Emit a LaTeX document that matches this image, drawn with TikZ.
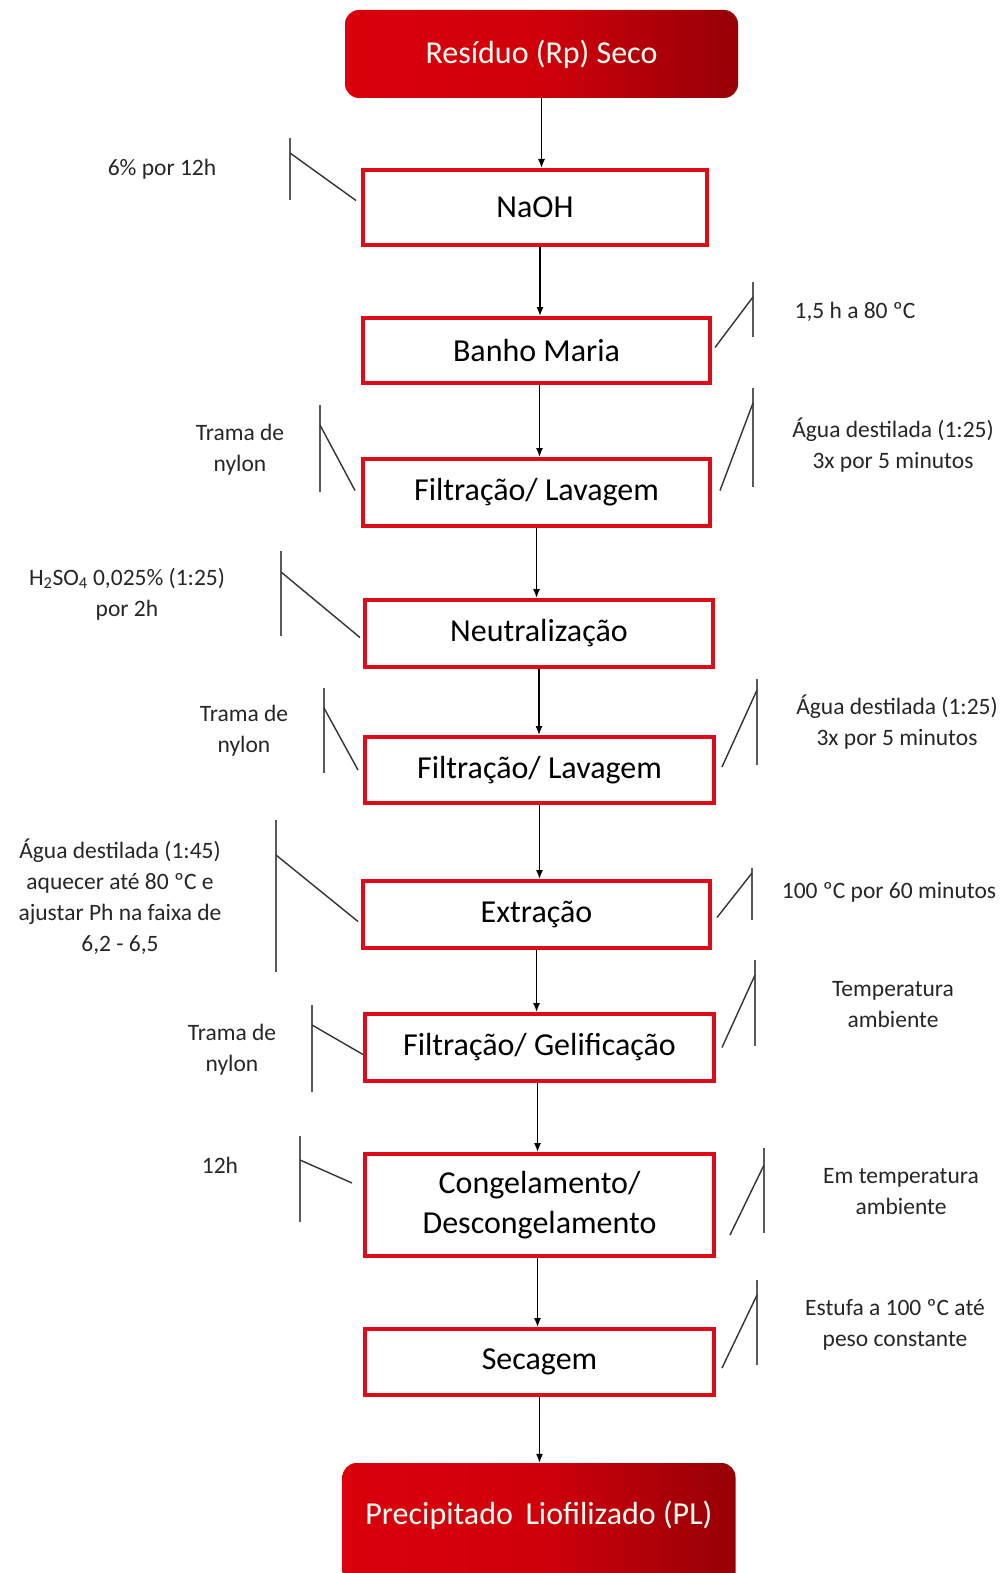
\documentclass[tikz,border=0pt]{standalone}
\usepackage{fontspec}
\setmainfont{Carlito}
\usetikzlibrary{arrows.meta}

\definecolor{boxred}{RGB}{222,12,22}
\definecolor{fillred}{RGB}{218,0,12}
\definecolor{darkred}{RGB}{150,0,6}
\definecolor{tiegray}{RGB}{90,90,90}

\tikzset{
    endbox/.style={rounded corners=14pt,left color=fillred,right color=darkred,
        middle color=fillred!85!darkred,
        text=white!95!yellow,minimum width=393pt,font=\fontsize{32}{36}\selectfont},
    stepbox/.style={draw=boxred,line width=4pt,fill=white,align=center,
        font=\fontsize{32}{40}\selectfont},
    note/.style={align=center,text=black!85,font=\fontsize{23.5}{31}\selectfont},
    flow/.style={-{Latex[length=9pt,width=7pt]},line width=1.3pt},
    tie/.style={line width=2pt,draw=tiegray},
    link/.style={line width=1.4pt,draw=black!80},
}

\begin{document}
\begin{tikzpicture}[x=1pt,y=-1pt]
    \useasboundingbox (0,0) rectangle (1007,1573);
    \clip (0,0) rectangle (1007,1573);

    % main column
    \node[endbox,minimum height=88pt] (res) at (541.5,54) {Resíduo (Rp) Seco};
    \node[stepbox,minimum width=344pt,minimum height=75pt] (naoh) at (535,207.5) {NaOH};
    \node[stepbox,minimum width=347pt,minimum height=65pt] (banho) at (536.5,350.5) {Banho Maria};
    \node[stepbox,minimum width=347pt,minimum height=67pt] (filt1) at (536.5,492.5) {Filtração/ Lavagem};
    \node[stepbox,minimum width=348pt,minimum height=67pt] (neut) at (539,633.5) {Neutralização};
    \node[stepbox,minimum width=349pt,minimum height=66pt] (filt2) at (539.5,770) {Filtração/ Lavagem};
    \node[stepbox,minimum width=347pt,minimum height=67pt] (extr) at (536.5,914.5) {Extração};
    \node[stepbox,minimum width=349pt,minimum height=67pt] (gel) at (539.5,1047.5) {Filtração/ Gelificação};
    \node[stepbox,minimum width=349pt,minimum height=102pt] (cong) at (539.5,1205) {Congelamento/\\Descongelamento};
    \node[stepbox,minimum width=349pt,minimum height=66pt] (sec) at (539.5,1362) {Secagem};
    \node[endbox,minimum height=130pt,text depth=30pt] (prec) at (539,1528) {Precipitado\, Liofilizado (PL)};

    \draw[flow] (res.south) -- (res.south |- naoh.north);
    \draw[flow] ([xshift=5pt]naoh.south) -- ([xshift=5pt]naoh.south |- banho.north);
    \draw[flow] ([xshift=3pt]banho.south) -- ([xshift=3pt]banho.south |- filt1.north);
    \draw[flow] (filt1.south) -- (filt1.south |- neut.north);
    \draw[flow] (neut.south) -- (neut.south |- filt2.north);
    \draw[flow] (filt2.south) -- (filt2.south |- extr.north);
    \draw[flow] (extr.south) -- (extr.south |- gel.north);
    \draw[flow] ([xshift=-2pt]gel.south) -- ([xshift=-2pt]gel.south |- cong.north);
    \draw[flow] ([xshift=-2pt]cong.south) -- ([xshift=-2pt]cong.south |- sec.north);
    \draw[flow] (sec.south) -- (sec.south |- prec.north);

    % conditions
    \node[note] (n1) at (162,169) {6\% por 12h};
    \node[note] (n2) at (855,312) {1,5 h a 80 ºC};
    \node[note] (n3) at (240,450) {Trama de\\nylon};
    \node[note] (n4) at (893,445) {Água destilada (1:25)\\3x por 5 minutos};
    \node[note] (n5) at (127,594) {H\textsubscript{2}SO\textsubscript{4} 0,025\% (1:25)\\por 2h};
    \node[note] (n6) at (244,731) {Trama de\\nylon};
    \node[note] (n7) at (897,722) {Água destilada (1:25)\\3x por 5 minutos};
    \node[note] (n8) at (120,897) {Água destilada (1:45)\\aquecer até 80 ºC e\\ajustar Ph na faixa de\\6,2 - 6,5};
    \node[note] (n9) at (889,892) {100 ºC por 60 minutos};
    \node[note] (n10) at (893,1005) {Temperatura\\ambiente};
    \node[note] (n11) at (232,1050) {Trama de\\nylon};
    \node[note] (n12) at (220,1165) {12h};
    \node[note] (n13) at (901,1192) {Em temperatura\\ambiente};
    \node[note] (n14) at (895,1325) {Estufa a 100 ºC até\\peso constante};

    % brackets
    \draw[tie] (290,138) -- (290,200);
    \draw[link] (290,153) -- ([shift={(-5,-7)}]naoh.west);
    \draw[tie] (753,282) -- (753,337);
    \draw[link] (753,297) -- ([shift={(3,-3)}]banho.east);
    \draw[tie] (320,405) -- (320,492);
    \draw[link] (320,425) -- ([shift={(-6,-2)}]filt1.west);
    \draw[tie] (753,388) -- (753,487);
    \draw[link] (753,403) -- ([shift={(8,-2)}]filt1.east);
    \draw[tie] (281,551) -- (281,636);
    \draw[link] (281,572) -- ([shift={(-3,4)}]neut.west);
    \draw[tie] (324,688) -- (324,773);
    \draw[link] (324,708) -- ([shift={(-5,0)}]filt2.west);
    \draw[tie] (757,679) -- (757,765);
    \draw[link] (757,690) -- ([shift={(6,-3)}]filt2.east);
    \draw[tie] (276,820) -- (276,972);
    \draw[link] (276,855) -- ([shift={(-3,7)}]extr.west);
    \draw[tie] (752,868) -- (752,920);
    \draw[link] (752,873) -- ([shift={(5,3)}]extr.east);
    \draw[tie] (312,1005) -- (312,1092);
    \draw[link] (312,1025) -- ([shift={(0,7)}]gel.west);
    \draw[tie] (755,960) -- (755,1046);
    \draw[link] (755,975) -- ([shift={(6,0)}]gel.east);
    \draw[tie] (300,1136) -- (300,1222);
    \draw[link] (300,1160) -- ([shift={(-11,-22)}]cong.west);
    \draw[tie] (764,1148) -- (764,1233);
    \draw[link] (764,1165) -- ([shift={(14,30)}]cong.east);
    \draw[tie] (757,1280) -- (757,1365);
    \draw[link] (757,1295) -- ([shift={(6,6)}]sec.east);
\end{tikzpicture}
\end{document}
